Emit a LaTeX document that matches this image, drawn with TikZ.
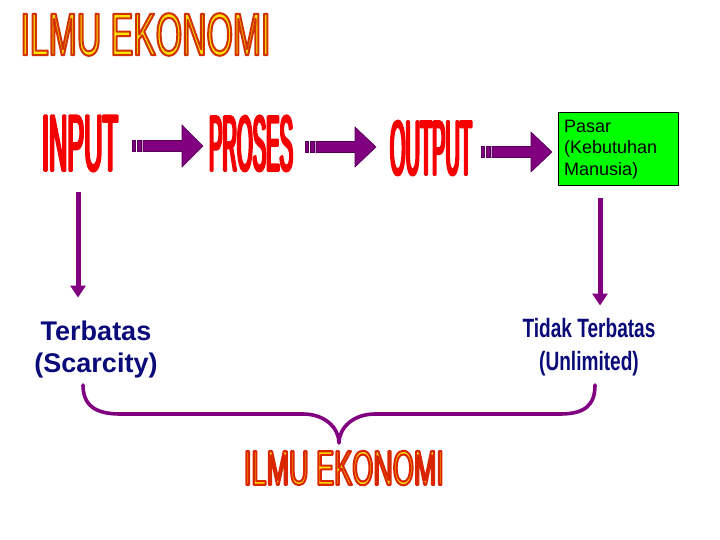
\documentclass[tikz,border=0pt]{standalone}
\usepackage{fontspec}
\setmainfont{Liberation Sans}
\newfontfamily\condA[FakeStretch=0.34]{Liberation Sans}
\newfontfamily\condB[FakeStretch=0.27]{Liberation Sans}
\newfontfamily\condT[FakeStretch=0.567]{Liberation Sans}
\usepackage{graphicx}
\usetikzlibrary{arrows.meta,calc}
\definecolor{arrpurple}{RGB}{128,0,128}
\definecolor{arrdark}{RGB}{85,0,85}
\definecolor{navytext}{RGB}{10,10,120}
\definecolor{titlefill}{RGB}{255,230,0}
\definecolor{boxgreen}{RGB}{0,255,0}
\definecolor{wordred}{RGB}{245,0,0}
% filled and stroked text: #1 stroke width (bp), #2 stroke colour as "r g b", #3 text
\newcommand\strokedtext[3]{\special{pdf:literal direct 2 Tr 1 j #1 w #2 RG}#3\special{pdf:literal direct 0 Tr 0 j}}
% block arrow: #1 x of stub start, #2 centre y, #3 head half height
\newcommand\blockarrow[3]{%
 \filldraw[blockarr] (#1,#2-5.5) rectangle (#1+3,#2+5.5);
 \filldraw[blockarr] (#1+5,#2-5.5) rectangle (#1+9,#2+5.5);
 \filldraw[blockarr] (#1+11,#2-5.5) -- (#1+50,#2-5.5) -- (#1+50,#2-#3)
   -- (#1+71,#2) -- (#1+50,#2+#3) -- (#1+50,#2+5.5) -- (#1+11,#2+5.5) -- cycle;}
\tikzset{
 blockarr/.style={fill=arrpurple,draw=arrdark,line width=0.6pt,line join=miter},
 bigword/.style={inner sep=0pt,text=wordred},
 titleword/.style={inner sep=0pt,text=titlefill},
 navyword/.style={inner sep=0pt,text=navytext,align=center},
 greenbox/.style={draw=black,line width=1pt,fill=boxgreen,minimum width=120pt,
   minimum height=73pt,text width=108pt,align=left,inner sep=0pt,
   font=\fontsize{18}{21.5}\selectfont},
 varrow/.style={draw=arrpurple,line width=5pt,-{Triangle[width=15pt,length=12pt]}},
 bracepath/.style={draw=arrpurple,line width=3.6pt,line cap=round,line join=round},
}
\begin{document}
\begin{tikzpicture}[x=1pt,y=-1pt]
\path[use as bounding box] (0,0) rectangle (720,540);

% top title
\node[titleword] (title) at (145.5,34.5)
  {\resizebox{250pt}{42pt}{\condT\fontsize{58.7}{58.7}\selectfont\strokedtext{2}{0.82 0.2 0}{ILMU EKONOMI}}};

% flow words
\node[bigword] (input) at (80,143.5)
  {\resizebox{76pt}{55pt}{\condA\fontsize{76}{76}\selectfont\strokedtext{2.3}{0.96 0 0}{INPUT}}};
\node[bigword] (proses) at (251,143.5)
  {\resizebox{84pt}{55pt}{\condB\fontsize{76}{76}\selectfont\strokedtext{2.3}{0.96 0 0}{PROSES}}};
\node[bigword] (output) at (431,148)
  {\resizebox{82pt}{54pt}{\condB\fontsize{76}{76}\selectfont\strokedtext{2.3}{0.96 0 0}{OUTPUT}}};
\node[greenbox] (pasar) at (618,149.5) {Pasar\\(Kebutuhan\\Manusia)};

% block arrows
\blockarrow{132}{146}{21}
\blockarrow{305}{147}{20}
\blockarrow{481}{152}{20}

% lower texts
\node[navyword,anchor=north,font=\bfseries\fontsize{27}{32}\selectfont] (terb) at (96,320.5)
  {Terbatas\\(Scarcity)};
\node[navyword,anchor=north,font=\bfseries\fontsize{26.5}{33}\selectfont] (tidak) at (589,318.5)
  {\scalebox{0.72}[1]{Tidak Terbatas}\\\scalebox{0.72}[1]{(Unlimited)}};

% vertical arrows
\draw[varrow] ($(input.south)+(-2,20)$) -- ($(input.south)+(-2,126)$);
\draw[varrow] ($(pasar.south)+(-18,12)$) -- ($(pasar.south)+(-18,119)$);

% brace
\draw[bracepath] (83,385) .. controls (83,405) and (95,414) .. (120,414) -- (303,414)
  .. controls (325,414) and (339,428) .. (339,443)
  .. controls (339,428) and (353,414) .. (375,414) -- (560,414)
  .. controls (585,414) and (595,405) .. (595,385);

% bottom title
\node[titleword] (bottomtitle) at (344,468)
  {\resizebox{200pt}{34pt}{\condT\fontsize{47.5}{47.5}\selectfont\strokedtext{2}{0.85 0.15 0}{ILMU EKONOMI}}};
\end{tikzpicture}
\end{document}
